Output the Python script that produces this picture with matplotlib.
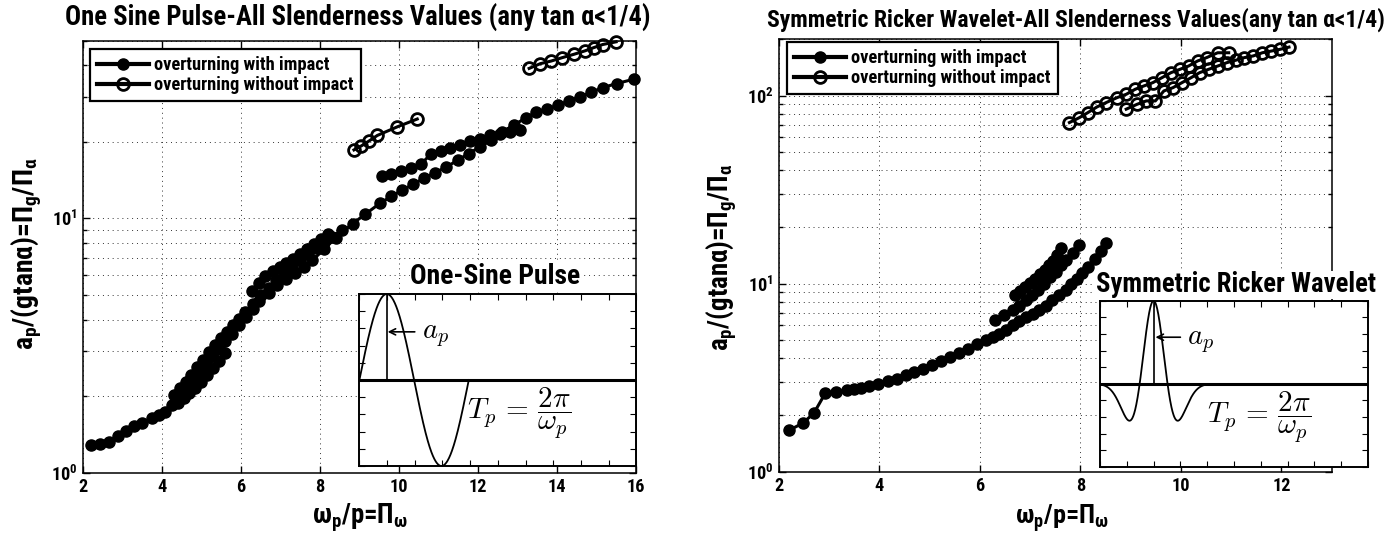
import numpy as np
import matplotlib
matplotlib.use('Agg')
import matplotlib.pyplot as plt
from matplotlib import font_manager as fm
from matplotlib.ticker import LogLocator, NullFormatter, FixedLocator

# ---------------- data: One Sine Pulse ----------------
sine_xlim = (2, 16)
sine_ylim = (1, 50)
sine_xticks = [2, 4, 6, 8, 10, 12, 14, 16]

sine_imp_a_x = [2.22, 2.45, 2.67, 2.90, 3.10, 3.30, 3.50, 3.75, 3.92, 4.09, 4.25, 4.42, 4.60, 4.76,
                4.93, 5.10, 5.27, 5.44, 5.60, 5.78, 5.95, 6.12, 6.30, 6.46, 6.70, 6.91, 7.15, 7.36,
                7.60, 7.81, 8.10, 8.40, 8.83, 9.15, 9.51, 9.80, 10.07, 10.35, 10.63, 10.90, 11.20,
                11.50, 11.76, 12.05, 12.33, 12.60, 12.90, 13.20, 13.46, 13.75, 14.02, 14.30, 14.58,
                14.85, 15.15, 15.50, 15.94]
sine_imp_a_y = [1.28, 1.30, 1.32, 1.40, 1.46, 1.52, 1.57, 1.64, 1.69, 1.74, 1.85, 1.97, 2.10, 2.24,
                2.44, 2.65, 2.88, 3.10, 3.30, 3.52, 3.80, 4.08, 4.42, 4.75, 5.10, 5.45, 5.78, 6.10,
                6.45, 6.85, 7.55, 8.40, 9.55, 10.4, 11.45, 12.2, 12.9, 13.6, 14.4, 15.1, 15.95,
                17.0, 18.0, 19.1, 20.3, 21.8, 23.3, 24.8, 26.2, 27.0, 27.9, 29.0, 30.1,
                31.3, 32.7, 33.9, 35.3]
sine_imp_b_x = [4.30, 4.45, 4.60, 4.75, 4.90, 5.05, 5.20, 5.35, 5.50, 5.65, 5.80, 5.95, 6.10, 6.30,
                6.50, 6.70, 6.90, 7.10, 7.30, 7.50, 7.70, 7.90, 8.10, 8.30, 8.55]
sine_imp_b_y = [2.02, 2.15, 2.28, 2.42, 2.60, 2.78, 2.97, 3.17, 3.38, 3.58, 3.80, 4.02, 4.28, 4.62,
                4.98, 5.35, 5.72, 6.08, 6.45, 6.85, 7.25, 7.65, 8.05, 8.45, 9.00]
sine_imp_c_x = [6.28, 6.45, 6.62, 6.80, 6.98, 7.15, 7.32, 7.50, 7.68, 7.85, 8.02, 8.20]
sine_imp_c_y = [5.19, 5.55, 5.95, 6.20, 6.45, 6.70, 6.95, 7.25, 7.60, 7.95, 8.30, 8.70]
sine_imp_d_x = [9.56, 9.80, 10.05, 10.30, 10.55, 10.80, 11.05, 11.30, 11.55, 11.80, 12.05, 12.30,
                12.55, 12.80, 13.06]
sine_imp_d_y = [14.7, 15.0, 15.4, 15.8, 16.3, 17.9, 18.4, 18.9, 19.5, 20.1, 20.6, 21.2,
                21.5, 21.8, 22.2]
sine_imp_e_x = [4.45, 4.60, 4.75, 4.90, 5.05, 5.20, 5.35]
sine_imp_e_y = [2.10, 2.20, 2.35, 2.50, 2.68, 2.85, 3.05]
sine_imp_f_x = [4.40, 4.55, 4.70, 4.85, 5.00, 5.15, 5.30, 5.45, 5.60]
sine_imp_f_y = [1.88, 1.96, 2.05, 2.16, 2.28, 2.42, 2.58, 2.76, 2.96]
sine_free_a_x = [8.86, 9.05, 9.25, 9.45, 9.95, 10.46]
sine_free_a_y = [18.6, 19.3, 20.2, 21.2, 22.9, 24.6]
sine_free_b_x = [13.29, 13.57, 13.85, 14.13, 14.42, 14.70, 14.93, 15.15, 15.49]
sine_free_b_y = [38.9, 40.6, 41.6, 42.9, 44.2, 45.6, 47.0, 48.3, 49.5]

# ---------------- data: Symmetric Ricker Wavelet ----------------
rick_xlim = (2, 13)
rick_ylim = (1, 200)
rick_xticks = [2, 4, 6, 8, 10, 12]

rick_imp_a_x = [2.20, 2.47, 2.69, 2.92, 3.13, 3.35, 3.50, 3.63, 3.80, 3.98, 4.16, 4.34, 4.52, 4.69,
                4.87, 5.05, 5.22, 5.40, 5.58, 5.76, 5.94, 6.11, 6.25, 6.38, 6.52, 6.65, 6.78, 6.91,
                7.05, 7.18, 7.31, 7.44, 7.57, 7.71, 7.82, 7.93, 8.04, 8.15, 8.28, 8.40, 8.50]
rick_imp_a_y = [1.66, 1.81, 2.04, 2.61, 2.66, 2.71, 2.75, 2.79, 2.86, 2.94, 3.03, 3.13, 3.26, 3.39,
                3.53, 3.68, 3.87, 4.07, 4.29, 4.52, 4.75, 5.00, 5.20, 5.42, 5.70, 6.00, 6.30, 6.64,
                6.90, 7.20, 7.65, 8.14, 8.65, 9.20, 9.90, 10.6, 11.4, 12.2, 13.5, 15.0, 16.4]
rick_imp_b_x = [6.29, 6.47, 6.65, 6.78, 6.91, 7.03, 7.15, 7.28, 7.40, 7.52, 7.62, 7.72, 7.85, 7.98]
rick_imp_b_y = [6.38, 6.80, 7.20, 7.65, 8.14, 8.65, 9.20, 9.95, 10.8, 11.6, 12.5, 13.4, 14.6, 16.1]
rick_imp_c_x = [6.69, 6.80, 6.90, 7.00, 7.10, 7.20, 7.30, 7.38, 7.45, 7.53, 7.62]
rick_imp_c_y = [8.66, 9.10, 9.60, 10.1, 10.6, 11.2, 11.8, 12.5, 13.2, 14.2, 15.5]
rick_free_a_x = [7.78, 7.98, 8.15, 8.33, 8.51, 8.73, 8.91, 9.09, 9.26, 9.44, 9.62, 9.80, 9.98,
                 10.15, 10.33, 10.51, 10.73, 10.95]
rick_free_a_y = [71.9, 76.4, 81.3, 87.1, 91.8, 97.6, 101.6, 108.1, 112.5, 117.2, 124.5, 132.4,
                 138.0, 143.6, 152.8, 159.2, 169.0, 169.0]
rick_free_b_x = [8.91, 9.13, 9.31, 9.49, 9.66, 9.84, 10.02, 10.20, 10.37, 10.55, 10.73, 10.91,
                 11.09, 11.26, 11.44, 11.62, 11.80, 11.97, 12.15]
rick_free_b_y = [84.7, 90.0, 93.7, 93.7, 105.9, 110.2, 117.2, 124.5, 132.4, 138.0, 143.6, 149.6,
                 154.2, 159.2, 162.6, 169.0, 172.6, 176.2, 181.1]

legend_labels = ['overturning with impact', 'overturning without impact']
title_left = 'One Sine Pulse-All Slenderness Values (any tan \u03b1<1/4)'
title_right = 'Symmetric Ricker Wavelet-All Slenderness Values(any tan \u03b1<1/4)'
inset_title_left = 'One-Sine Pulse'
inset_title_right = 'Symmetric Ricker Wavelet'
ylabel = 'a$_{p}$/(gtan\u03b1)=\u03a0$_{g}$/\u03a0$_{\\alpha}$'
xlabel = '\u03c9$_{p}$/p=\u03a0$_{\\omega}$'

# ---------------- fonts ----------------
names = {f.name for f in fm.fontManager.ttflist}
FONT = 'Liberation Sans'
for cand in ['Liberation Sans Narrow', 'Arial Narrow', 'Roboto Condensed',
             'Noto Sans Condensed', 'Open Sans Condensed']:
    if cand in names:
        FONT = cand
        break
plt.rcParams['font.family'] = [FONT, 'DejaVu Sans']
plt.rcParams['font.weight'] = 'bold'
plt.rcParams['mathtext.fontset'] = 'custom'
for k in ('rm', 'it', 'bf', 'sf'):
    plt.rcParams['mathtext.' + k] = FONT + ':bold'

W, H = 1394, 537
fig = plt.figure(figsize=(W / 100, H / 100), dpi=100)
renderer = fig.canvas.get_renderer()


def box(l, t, r, b):
    return [l / W, 1 - b / H, (r - l) / W, (b - t) / H]


def fitted_size(s, target, vertical=False, **kw):
    t = fig.text(0, 0, s, fontsize=20, rotation=90 if vertical else 0, **kw)
    for _ in range(3):
        bb = t.get_window_extent(renderer)
        w = bb.height if vertical else bb.width
        t.set_fontsize(t.get_fontsize() * target / w)
    fs = t.get_fontsize()
    t.remove()
    return fs


def ftext(x, y, s, target, vertical=False, **kw):
    fs = fitted_size(s, target, vertical)
    return fig.text(x / W, 1 - y / H, s, fontsize=fs, ha='center', va='center',
                    rotation=90 if vertical else 0, **kw)


tick_fs = fitted_size('16', 18.5)
leg_fs = fitted_size(legend_labels[1], 199)
leg_px = leg_fs * 100 / 72

ax1 = fig.add_axes(box(82.7, 40.7, 636.3, 472.7))
ax2 = fig.add_axes(box(779, 39, 1331.7, 471.7))
in1 = fig.add_axes(box(359.4, 294, 636.3, 466))
in2 = fig.add_axes(box(1100, 300.7, 1368, 466.7))

grid_kw = dict(ls=(0, (1, 4)), color='#333333', lw=0.7)


def style_main(ax, xlim, ylim, xticks):
    ax.set_yscale('log')
    ax.set_xlim(*xlim)
    ax.set_ylim(*ylim)
    ax.xaxis.set_major_locator(FixedLocator(xticks))
    ax.yaxis.set_major_locator(LogLocator(base=10, numticks=10))
    ax.yaxis.set_minor_locator(LogLocator(base=10, subs=np.arange(2, 10), numticks=30))
    ax.yaxis.set_minor_formatter(NullFormatter())
    ax.tick_params(which='both', direction='in', top=True, right=True, width=1.0)
    ax.tick_params(which='major', length=5, labelsize=tick_fs, pad=4)
    ax.tick_params(which='minor', length=3)
    ax.grid(True, which='major', axis='both', **grid_kw)
    ax.grid(True, which='minor', axis='y', **grid_kw)
    ax.set_axisbelow(True)
    for s in ax.spines.values():
        s.set_linewidth(1.1)


imp_kw = dict(color='k', lw=2.2, marker='o', ms=8.0, mfc='k', mec='k')
free_kw = dict(color='k', lw=2.2, marker='o', ms=8.5, mfc='none', mec='k', mew=2.0)


def legend(ax, h1, h2, anchor):
    leg = ax.legend([h1, h2], legend_labels, loc='upper left', bbox_to_anchor=anchor,
                    borderaxespad=0, fancybox=False, edgecolor='k', framealpha=1,
                    borderpad=7 / leg_px, labelspacing=0.12, handlelength=52 / leg_px,
                    handletextpad=5 / leg_px, prop={'weight': 'bold', 'size': leg_fs})
    leg.get_frame().set_linewidth(1.6)
    for ln in leg.get_lines():
        ln.set_linewidth(3.0)
    return leg


# left panel
style_main(ax1, sine_xlim, sine_ylim, sine_xticks)
h1, = ax1.plot(sine_imp_a_x, sine_imp_a_y, **imp_kw)
ax1.plot(sine_imp_b_x, sine_imp_b_y, **imp_kw)
ax1.plot(sine_imp_e_x, sine_imp_e_y, **imp_kw)
ax1.plot(sine_imp_f_x, sine_imp_f_y, **imp_kw)
ax1.plot(sine_imp_c_x, sine_imp_c_y, **imp_kw)
ax1.plot(sine_imp_d_x, sine_imp_d_y, **imp_kw)
h2, = ax1.plot(sine_free_a_x, sine_free_a_y, **free_kw)
ax1.plot(sine_free_b_x, sine_free_b_y, **free_kw)
for ln in ax1.lines:
    ln.set_clip_on(False)
legend(ax1, h1, h2, ((90 - 82.7) / 553.6, (472.7 - 49) / 432))

# right panel
style_main(ax2, rick_xlim, rick_ylim, rick_xticks)
g1, = ax2.plot(rick_imp_a_x, rick_imp_a_y, **imp_kw)
ax2.plot(rick_imp_b_x, rick_imp_b_y, **imp_kw)
ax2.plot(rick_imp_c_x, rick_imp_c_y, **imp_kw)
g2, = ax2.plot(rick_free_a_x, rick_free_a_y, **free_kw)
ax2.plot(rick_free_b_x, rick_free_b_y, **free_kw)
legend(ax2, g1, g2, ((787 - 779) / 552.7, (471.7 - 42) / 432.7))


# insets
def style_inset(ax):
    ax.set_xlim(0, 1)
    ax.set_ylim(-1, 1)
    ax.set_xticks(np.linspace(0, 1, 11))
    ax.set_yticks(np.linspace(-1, 1, 11))
    ax.tick_params(direction='in', length=4, width=0.8, top=True, right=True,
                   labelbottom=False, labelleft=False)
    for s in ax.spines.values():
        s.set_linewidth(1.4)
    ax.set_zorder(5)
    ax.patch.set_facecolor('white')
    ax.axhline(0, color='k', lw=2.2)


pulse_span = 0.395          # fraction of inset width covered by one pulse
style_inset(in1)
ts = np.linspace(0, pulse_span, 300)
in1.plot(ts, np.sin(2 * np.pi * ts / pulse_span), color='k', lw=1.3)
in1.plot([pulse_span / 4] * 2, [0, 1], color='k', lw=1.2)

ricker_center, ricker_scale, ricker_half = 0.2, 0.0735, 2.72
style_inset(in2)
tr = np.linspace(-ricker_half, ricker_half, 400)
in2.plot(ricker_center + ricker_scale * tr, (1 - 2 * tr ** 2) * np.exp(-tr ** 2), color='k', lw=1.3)
in2.plot([ricker_center] * 2, [0, 1], color='k', lw=1.2)

tp = r'$T_p\,=\,\dfrac{2\pi}{\omega_p}$'
fs_tp = fitted_size(tp, 104, math_fontfamily='cm')
fs_a = fitted_size(r'$a_p$', 27, math_fontfamily='cm')


def arrow_label(ax, x_tip, x_tail, x_text, y):
    ax.annotate('', xy=(x_tip, y), xytext=(x_tail, y), xycoords='axes fraction',
                arrowprops=dict(arrowstyle='->', lw=1.2, shrinkA=0, shrinkB=0,
                                mutation_scale=11, color='k'))
    ax.text(x_text, y - 0.02, r'$a_p$', transform=ax.transAxes, fontsize=fs_a,
            math_fontfamily='cm', ha='left', va='center')


in1.text(0.387, 0.308, tp, transform=in1.transAxes, fontsize=fs_tp, math_fontfamily='cm',
         ha='left', va='center')
arrow_label(in1, 0.102, 0.20, 0.227, 0.78)
in2.text(0.398, 0.30, tp, transform=in2.transAxes, fontsize=fs_tp, math_fontfamily='cm',
         ha='left', va='center')
arrow_label(in2, 0.207, 0.30, 0.323, 0.78)

# texts
white_bg = dict(facecolor='white', edgecolor='none', pad=0.5)
ftext(358, 18, title_left, 585)
ftext(1076, 20, title_right, 618)
ftext(495.5, 277, inset_title_left, 170, bbox=white_bg, zorder=6)
ftext(1236, 285, inset_title_right, 279, bbox=white_bg, zorder=6)
ftext(360, 518, xlabel, 96)
ftext(1061.6, 518, xlabel, 94)
ftext(27, 254, ylabel, 193, vertical=True)
ftext(722, 257, ylabel, 187, vertical=True)

fig.savefig('out.png', dpi=100)
